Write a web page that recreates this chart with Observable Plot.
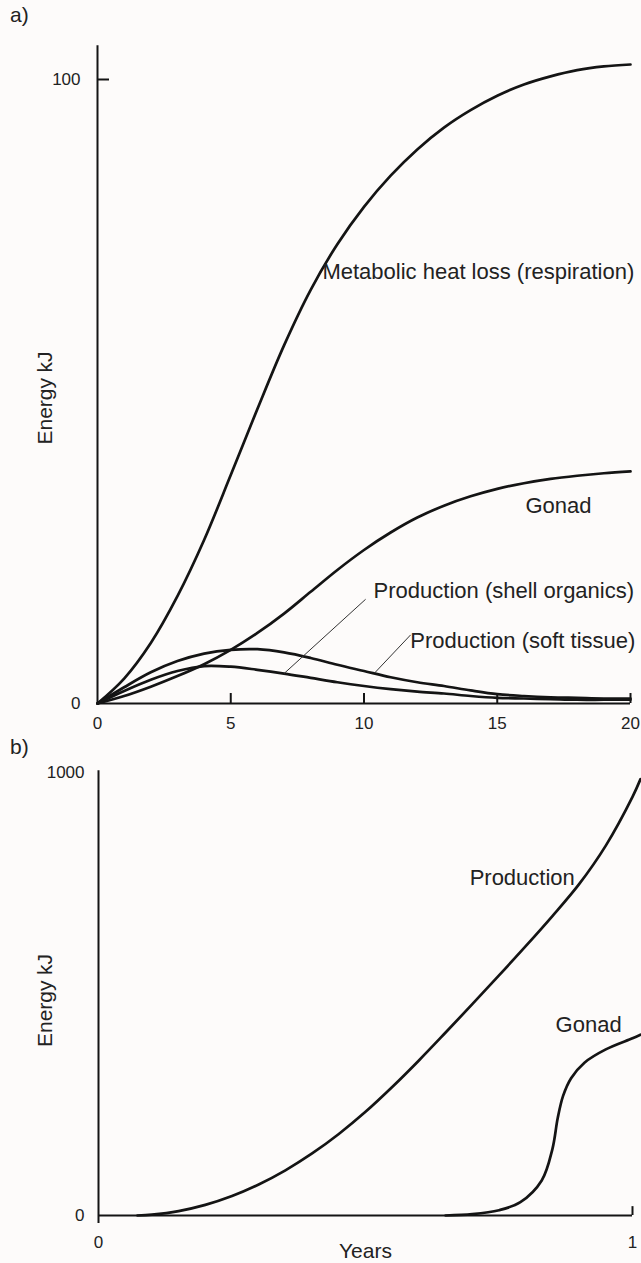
<!DOCTYPE html>
<html><head><meta charset="utf-8">
<script src="https://cdn.jsdelivr.net/npm/d3@7"></script>
<script src="https://cdn.jsdelivr.net/npm/@observablehq/plot@0.6"></script>
<style>
body{margin:0;background:#fdfbfa;}
#wrap{position:relative;width:641px;height:1263px;font-family:"Liberation Sans",Arial,Helvetica,sans-serif;color:#222;overflow:hidden;}
.tag{position:absolute;font-size:21px;line-height:24px;}
#pa{position:absolute;left:0;top:0}
#pb{position:absolute;left:0;top:740px}
</style></head><body>
<div id="wrap"><div id="pa"></div><div id="pb"></div>
<div class="tag" style="left:10px;top:3px">a)</div>
<div class="tag" style="left:10px;top:735px">b)</div></div>
<script>
// ---- panel a data (years 0..20, energy kJ)
const yearsA = [0,1,2,3,4,5,6,7,8,9,10,11,12,13,14,15,16,17,18,19,20];
const metabolic = [0,4,9.7,17.2,26.2,36.6,47.2,57.4,66.3,73.6,79.6,84.6,88.8,92.3,95.1,97.4,99.2,100.5,101.5,102.1,102.4];
const gonadA = [0,1.2,2.7,4.4,6.3,8.6,11.3,14.4,17.9,21.4,24.6,27.4,29.8,31.7,33.2,34.4,35.3,36.0,36.5,36.9,37.2];
const softTissue = [0,2.6,5.0,6.8,8.0,8.6,8.7,8.2,7.3,6.2,5.2,4.2,3.4,2.8,2.1,1.5,1.2,1.0,0.9,0.8,0.8];
const shellOrg = [0,2.0,3.8,5.2,6.0,5.9,5.4,4.8,4.1,3.4,2.8,2.3,1.9,1.6,1.2,0.9,0.8,0.7,0.6,0.6,0.6];
const xTicksA = [0,5,10,15,20];
const yTicksA = [0,100];
const labelsA = ["Metabolic heat loss (respiration)","Gonad","Production (shell organics)","Production (soft tissue)"];

// ---- panel b data (years 0..1, energy kJ)
const prodT = [0.073,0.1,0.15,0.2,0.25,0.3,0.35,0.4,0.45,0.5,0.55,0.6,0.65,0.7,0.75,0.8,0.85,0.9,0.95,1.0,1.015];
const prodE = [0,2,10,24,44,70,102,140,184,234,290,350,413,477,542,608,676,748,835,945,985];
const gonBT = [0.65,0.7,0.75,0.79,0.83,0.85,0.86,0.87,0.885,0.91,0.95,1.0,1.015];
const gonBE = [0,3,12,30,79,150,220,270,310,345,375,400,408];
const xTicksB = [0,1];
const yTicksB = [0,1000];
const labelsB = ["Production","Gonad"];
const axisLabel = ["Energy","kJ"];

const INK = "#141414";
const FONT = '"Liberation Sans",Arial,Helvetica,sans-serif';
const curveStyle = {curve:"catmull-rom", stroke:INK, strokeWidth:2.7};
const fmt = d => String(d);

const pa = Plot.plot({
  width:641, height:740, marginLeft:97, marginRight:11, marginTop:79, marginBottom:37,
  x:{domain:[0,20]}, y:{domain:[0,100]},
  style:{background:"transparent", fontFamily:FONT, color:"#222"},
  marks:[
    Plot.ruleX([0],{y1:0,y2:105.4,stroke:INK,strokeWidth:2}),
    Plot.ruleY([0],{x1:0,x2:20,stroke:INK,strokeWidth:2}),
    Plot.ruleX(xTicksA.slice(1),{y1:0,y2:1.6,stroke:INK,strokeWidth:2}),
    Plot.ruleY([100],{x1:0,x2:0.45,stroke:INK,strokeWidth:2}),
    Plot.axisX({ticks:xTicksA,tickFormat:fmt,tickSize:0,tickPadding:13,fontSize:17,label:null}),
    Plot.axisY({ticks:yTicksA,tickFormat:fmt,tickSize:0,tickPadding:17,fontSize:17,label:null}),
    Plot.lineY(metabolic,{x:(d,i)=>yearsA[i],y:d=>d,...curveStyle}),
    Plot.lineY(gonadA,{x:(d,i)=>yearsA[i],y:d=>d,...curveStyle}),
    Plot.lineY(softTissue,{x:(d,i)=>yearsA[i],y:d=>d,...curveStyle}),
    Plot.lineY(shellOrg,{x:(d,i)=>yearsA[i],y:d=>d,...curveStyle}),
    Plot.link([0],{x1:10.06,y1:16.7,x2:yearsA[7],y2:shellOrg[7],stroke:"#333",strokeWidth:1}),
    Plot.link([0],{x1:11.75,y1:11.0,x2:yearsA[10]+0.4,y2:softTissue[10]-0.3,stroke:"#333",strokeWidth:1}),
    Plot.text([labelsA[0]],{x:8.44,y:69.1,textAnchor:"start",fontSize:22,fill:"#222"}),
    Plot.text([labelsA[1]],{x:16.06,y:31.7,textAnchor:"start",fontSize:22,fill:"#222"}),
    Plot.text([labelsA[2]],{x:10.36,y:18.1,textAnchor:"start",fontSize:22,fill:"#222"}),
    Plot.text([labelsA[3]],{x:11.74,y:10.1,textAnchor:"start",fontSize:22,fill:"#222"}),
    Plot.text([axisLabel[0]],{frameAnchor:"left",dx:-52,dy:53,rotate:-90,fontSize:21,fill:"#222"}),
    Plot.text([axisLabel[1]],{frameAnchor:"left",dx:-52,dy:-19,rotate:-90,fontSize:21,fill:"#222"})
  ]
});
document.getElementById("pa").append(pa);

const pb = Plot.plot({
  width:641, height:523, marginLeft:98, marginRight:9, marginTop:32, marginBottom:48,
  x:{domain:[0,1]}, y:{domain:[0,1000]},
  style:{background:"transparent", fontFamily:FONT, color:"#222"},
  marks:[
    Plot.ruleX([0],{y1:-18,y2:1004,stroke:INK,strokeWidth:2}),
    Plot.ruleY([0],{x1:0,x2:1,stroke:INK,strokeWidth:2}),
    Plot.ruleX([1],{y1:0,y2:20,stroke:INK,strokeWidth:2}),
    Plot.axisX({ticks:xTicksB,tickFormat:fmt,tickSize:0,tickPadding:20,fontSize:17,label:null}),
    Plot.axisY({ticks:yTicksB,tickFormat:fmt,tickSize:0,tickPadding:14,fontSize:17,label:null}),
    Plot.lineY(prodE,{x:(d,i)=>prodT[i],y:d=>d,...curveStyle}),
    Plot.lineY(gonBE,{x:(d,i)=>gonBT[i],y:d=>d,...curveStyle}),
    Plot.text([labelsB[0]],{x:0.695,y:761,textAnchor:"start",fontSize:22,fill:"#222"}),
    Plot.text([labelsB[1]],{x:0.856,y:429,textAnchor:"start",fontSize:22,fill:"#222"}),
    Plot.text(["Years"],{frameAnchor:"bottom",dy:42,fontSize:21,fill:"#222"}),
    Plot.text([axisLabel[0]],{frameAnchor:"left",dx:-53,dy:53,rotate:-90,fontSize:21,fill:"#222"}),
    Plot.text([axisLabel[1]],{frameAnchor:"left",dx:-53,dy:-19,rotate:-90,fontSize:21,fill:"#222"})
  ]
});
document.getElementById("pb").append(pb);
</script>
</body></html>
